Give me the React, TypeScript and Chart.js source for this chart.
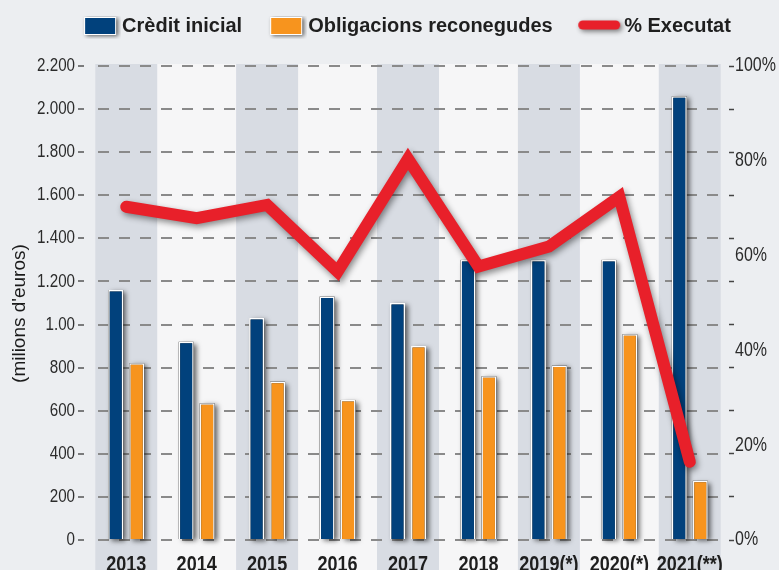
import React, { useEffect, useRef } from 'react';
import { Chart, registerables } from 'chart.js';

Chart.register(...registerables);

const categories = ['2013', '2014', '2015', '2016', '2017', '2018', '2019(*)', '2020(*)', '2021(**)'];
const creditInicial = [1160, 920, 1030, 1130, 1100, 1300, 1300, 1300, 2060];
const obligacions = [820, 635, 735, 650, 900, 760, 810, 955, 275];
const executat = [70.3, 67.9, 70.7, 56.6, 80.4, 57.7, 61.9, 72.4, 16.5];
const leftTickValues = [0, 200, 400, 600, 800, 1000, 1200, 1400, 1600, 1800, 2000, 2200];
const leftTickLabels = ['0', '200', '400', '600', '800', '1.00', '1.200', '1.400', '1.600', '1.800', '2.000', '2.200'];
const rightTickValues = [0, 20, 40, 60, 80, 100];
const rightTickLabels = ['0%', '20%', '40%', '60%', '80%', '100%'];
const legendLabels = ['Crèdit inicial', 'Obligacions reconegudes ', '% Executat'];
const yTitle = "(milions d'euros)\u00a0\u00a0\u00a0\u00a0";

const BLUE = '#01417c';
const ORANGE = '#f7941e';
const RED = '#e8202a';
const WIDE = "'Liberation Sans', Arial, sans-serif";
const NARROW_X = 0.82;

function makeBoxImage(color: string) {
  const c = document.createElement('canvas');
  c.width = 74;
  c.height = 26;
  const ctx = c.getContext('2d')!;
  ctx.save();
  ctx.shadowColor = 'rgba(0,0,0,0.6)';
  ctx.shadowBlur = 4;
  ctx.shadowOffsetX = 2;
  ctx.shadowOffsetY = 1;
  ctx.fillStyle = '#ffffff';
  ctx.fillRect(37, 4, 32, 18);
  ctx.restore();
  ctx.fillStyle = color;
  ctx.fillRect(38, 5, 30, 16);
  return c;
}

function makeLineImage(color: string) {
  const c = document.createElement('canvas');
  c.width = 80;
  c.height = 22;
  const ctx = c.getContext('2d')!;
  ctx.shadowColor = 'rgba(0,0,0,0.5)';
  ctx.shadowBlur = 5;
  ctx.shadowOffsetX = 2;
  ctx.shadowOffsetY = 2;
  ctx.strokeStyle = color;
  ctx.lineWidth = 9;
  ctx.lineCap = 'round';
  ctx.beginPath();
  ctx.moveTo(36.5, 10);
  ctx.lineTo(69.5, 10);
  ctx.stroke();
  return c;
}

function drawNarrow(ctx: CanvasRenderingContext2D, text: string, x: number, y: number) {
  ctx.save();
  ctx.translate(x, y);
  ctx.scale(NARROW_X, 1);
  ctx.fillText(text, 0, 0);
  ctx.restore();
}

const backgroundPlugin = {
  id: 'bands',
  beforeDraw(chart: any) {
    const { ctx, chartArea, scales } = chart;
    const x = scales.x;
    const half = 31;
    ctx.save();
    ctx.fillStyle = '#eceef1';
    ctx.fillRect(0, 0, chart.width, chart.height);
    const first = x.getPixelForValue(0) - half;
    const last = x.getPixelForValue(categories.length - 1) + half;
    ctx.fillStyle = '#f6f6f7';
    ctx.fillRect(first, chartArea.top - 2, last - first, chart.height);
    ctx.fillStyle = '#d8dce3';
    categories.forEach((_, i) => {
      if (i % 2 === 0) {
        const c = x.getPixelForValue(i);
        ctx.fillRect(c - half, chartArea.top - 2, half * 2, chart.height);
      }
    });
    ctx.restore();
  },
};

const labelsPlugin = {
  id: 'narrowLabels',
  afterDraw(chart: any) {
    const { ctx, scales } = chart;
    const { x, y, y1 } = scales;
    ctx.save();
    ctx.fillStyle = '#2b2b2b';
    ctx.font = `18.5px ${WIDE}`;
    ctx.textAlign = 'right';
    ctx.textBaseline = 'middle';
    leftTickValues.forEach((v, i) => {
      drawNarrow(ctx, leftTickLabels[i], y.right - 16, y.getPixelForValue(v));
    });
    ctx.font = `19.5px ${WIDE}`;
    ctx.textAlign = 'left';
    rightTickValues.forEach((v, i) => {
      drawNarrow(ctx, rightTickLabels[i], y1.left + 10, y1.getPixelForValue(v));
    });
    ctx.fillStyle = '#1e1e1e';
    ctx.font = `bold 22px ${WIDE}`;
    ctx.textAlign = 'center';
    ctx.textBaseline = 'alphabetic';
    categories.forEach((c, i) => {
      drawNarrow(ctx, c, x.getPixelForValue(i), x.top + 31);
    });
    ctx.restore();
  },
};

const shadowPlugin = {
  id: 'shadows',
  beforeLayout(chart: any) {
    const lg = chart.legend;
    if (lg && !lg._patched) {
      const orig = lg.fit;
      lg.fit = function () {
        orig.call(this);
        this.height = 50;
      };
      lg._patched = true;
    }
  },
  beforeDatasetDraw(chart: any, args: any) {
    const ds = chart.data.datasets[args.index];
    const ctx = chart.ctx;
    if (ds.type === 'line') {
      ctx.save();
      ctx.shadowColor = 'rgba(0,0,0,0.45)';
      ctx.shadowBlur = 6;
      ctx.shadowOffsetX = 2;
      ctx.shadowOffsetY = 3;
      return;
    }
    ctx.save();
    ctx.shadowColor = 'rgba(0,0,0,0.6)';
    ctx.shadowBlur = 5;
    ctx.shadowOffsetX = 3;
    ctx.shadowOffsetY = 2;
    ctx.fillStyle = '#333';
    args.meta.data.forEach((el: any) => {
      const { x, y, base, width } = el.getProps(['x', 'y', 'base', 'width'], true);
      ctx.fillRect(x - width / 2, y, width, base - y);
    });
    ctx.restore();
  },
  afterDatasetDraw(chart: any, args: any) {
    const ds = chart.data.datasets[args.index];
    if (ds.type === 'line') chart.ctx.restore();
  },
};

export default function App() {
  const ref = useRef<HTMLCanvasElement>(null);

  useEffect(() => {
    if (!ref.current) return;
    const images = [makeBoxImage(BLUE), makeBoxImage(ORANGE), makeLineImage(RED)];
    const chart = new Chart(ref.current, {
      type: 'bar',
      data: {
        labels: categories,
        datasets: [
          {
            type: 'bar',
            label: legendLabels[0],
            data: creditInicial,
            yAxisID: 'y',
            backgroundColor: BLUE,
            borderColor: '#ffffff',
            borderWidth: 1.5,
            categoryPercentage: 0.596,
            barPercentage: 0.714,
            order: 1,
          },
          {
            type: 'bar',
            label: legendLabels[1],
            data: obligacions,
            yAxisID: 'y',
            backgroundColor: ORANGE,
            borderColor: '#ffffff',
            borderWidth: 1.5,
            categoryPercentage: 0.596,
            barPercentage: 0.714,
            order: 2,
          },
          {
            type: 'line',
            label: legendLabels[2],
            data: executat,
            yAxisID: 'y1',
            borderColor: RED,
            borderWidth: 12,
            borderCapStyle: 'round',
            borderJoinStyle: 'miter',
            pointRadius: 0,
            tension: 0,
            order: 0,
          } as any,
        ],
      },
      options: {
        responsive: false,
        animation: false,
        layout: { padding: { left: 8, top: 16, right: 0, bottom: 0 } },
        plugins: {
          tooltip: { enabled: false },
          legend: {
            display: true,
            position: 'top',
            fullSize: true,
            labels: {
              usePointStyle: true,
              pointStyleWidth: 56,
              padding: 0,
              color: '#1f1f1f',
              font: { family: WIDE, size: 20, weight: 'bold' },
              generateLabels: () =>
                [0, 1, 2].map((i) => ({
                  text: legendLabels[i],
                  pointStyle: images[i] as any,
                  fillStyle: 'transparent',
                  strokeStyle: 'transparent',
                  lineWidth: 0,
                  hidden: false,
                  datasetIndex: i,
                  fontColor: '#1f1f1f',
                })),
            },
          },
        },
        scales: {
          x: {
            grid: { display: false, drawTicks: false },
            border: { display: false },
            ticks: { display: false, autoSkip: false, maxRotation: 0 },
            afterFit: (s: any) => {
              s.height = 30;
            },
          },
          y: {
            position: 'left',
            min: 0,
            max: 2200,
            border: { display: false, dash: [11, 10], dashOffset: 14 },
            grid: {
              color: '#8a8a8a',
              lineWidth: 2,
              drawTicks: true,
              tickLength: 13,
              tickColor: '#555',
              tickWidth: 1.5,
              tickBorderDash: [6, 7],
            },
            afterBuildTicks: (s: any) => {
              s.ticks = leftTickValues.map((v) => ({ value: v }));
            },
            ticks: { display: false, autoSkip: false },
            title: {
              display: true,
              text: yTitle,
              color: '#1a1a1a',
              padding: { top: 0, bottom: 0 },
              font: { family: WIDE, size: 19 },
            },
            afterFit: (s: any) => {
              s.width = 83;
            },
          },
          y1: {
            position: 'right',
            min: 0,
            max: 100,
            border: { display: false },
            grid: {
              drawOnChartArea: false,
              drawTicks: true,
              tickLength: 10,
              tickWidth: 1.5,
              tickBorderDash: [5, 4],
              tickBorderDashOffset: 5,
              tickColor: (c: any) => {
                const v = c.tick ? c.tick.value : -1;
                const isLabel = rightTickValues.indexOf(v) >= 0;
                return !isLabel || v === 0 || v === 100 ? '#444' : 'rgba(0,0,0,0)';
              },
            },
            afterBuildTicks: (s: any) => {
              const t = rightTickValues.map((v) => ({ value: v }));
              for (let k = 1; k < leftTickValues.length - 1; k++) {
                t.push({ value: (leftTickValues[k] / 2200) * 100 });
              }
              t.sort((a, b) => a.value - b.value);
              s.ticks = t;
            },
            ticks: { display: false, autoSkip: false },
            afterFit: (s: any) => {
              s.width = 54;
            },
          },
        },
      },
      plugins: [backgroundPlugin, shadowPlugin, labelsPlugin],
    });
    return () => chart.destroy();
  }, []);

  return (
    <canvas
      ref={ref}
      width={779}
      height={570}
      style={{ position: 'absolute', left: 0, top: 0, display: 'block', width: 779, height: 570 }}
    />
  );
}
